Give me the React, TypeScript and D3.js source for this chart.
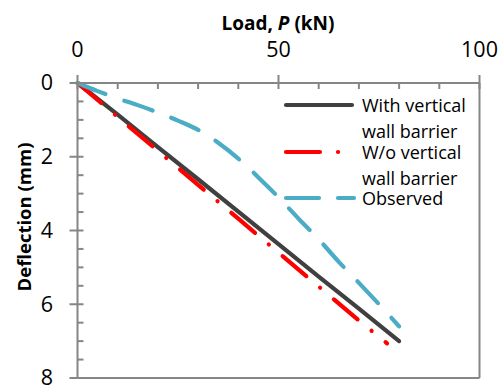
import React from "react";
import * as d3 from "d3";

const loadWith = [0, 10, 20, 30, 40, 50, 60, 70, 80];
const deflWith = [0, 0.86, 1.74, 2.61, 3.49, 4.37, 5.25, 6.12, 7.0];

const loadWo = [0, 10, 20, 30, 40, 50, 60, 70, 77];
const deflWo = [0, 0.92, 1.84, 2.76, 3.68, 4.6, 5.52, 6.44, 7.06];

const loadObs = [0, 5, 10, 15, 20, 25, 30, 35, 40, 45, 50, 55, 60, 65, 70, 75, 80];
const deflObs = [0, 0.22, 0.42, 0.6, 0.8, 1.02, 1.27, 1.62, 2.05, 2.56, 3.1, 3.68, 4.24, 4.85, 5.42, 6.0, 6.6];

const xTicks = [0, 50, 100];
const yTicks = [0, 2, 4, 6, 8];

const legendLabels = [
  ["With vertical", "wall barrier"],
  ["W/o vertical", "wall barrier"],
  ["Observed"],
];

const FONT = "'Open Sans', sans-serif";
const AXIS = "#868686";

export default function App() {
  const x = d3.scaleLinear().domain([0, 100]).range([77.5, 479.5]);
  const y = d3.scaleLinear().domain([0, 8]).range([83, 378]);

  const mk = (xs: number[], ys: number[]) =>
    d3.line<number>().x((_, i) => x(xs[i])).y((_, i) => y(ys[i]))(xs.map((_, i) => i)) || "";
  const mkSmooth = (xs: number[], ys: number[]) =>
    d3
      .line<number>()
      .x((_, i) => x(xs[i]))
      .y((_, i) => y(ys[i]))
      .curve(d3.curveMonotoneX)(xs.map((_, i) => i)) || "";

  const xMinor = d3.range(0, 100.01, 10);
  const yMinor = d3.range(0, 8.01, 0.5);

  const series = [
    { d: mk(loadWith, deflWith), color: "#404040", dash: "none" },
    { d: mk(loadWo, deflWo), color: "#FF0000", dash: "31 18 0.1 18" },
    { d: mkSmooth(loadObs, deflObs), color: "#4BACC6", dash: "30 20" },
  ];

  const legendY = [105, 152, 198];

  return (
    <svg
      width={502}
      height={387}
      style={{ position: "absolute", left: 0, top: 0, background: "#fff" }}
      fontFamily={FONT}
    >
      <rect x={0} y={0} width={502} height={387} fill="#fff" />
      {/* frame right & bottom */}
      <line x1={x(100)} x2={x(100)} y1={y(0)} y2={y(8)} stroke={AXIS} strokeWidth={2} />
      <line x1={x(0)} x2={x(100)} y1={y(8)} y2={y(8)} stroke={AXIS} strokeWidth={2} />

      {/* series */}
      {series.map((s, i) => (
        <path
          key={i}
          d={s.d}
          fill="none"
          stroke={s.color}
          strokeWidth={4.2}
          strokeLinecap="round"
          strokeLinejoin="round"
          strokeDasharray={s.dash}
        />
      ))}

      {/* top axis */}
      <line x1={x(0)} x2={x(100)} y1={y(0)} y2={y(0)} stroke={AXIS} strokeWidth={2} />
      {xMinor.map((v) => (
        <line key={"xm" + v} x1={x(v)} x2={x(v)} y1={y(0)} y2={y(0) + 6} stroke={AXIS} strokeWidth={2} />
      ))}
      {xTicks.map((v) => (
        <g key={"xt" + v}>
          <line x1={x(v)} x2={x(v)} y1={y(0) - 8} y2={y(0)} stroke={AXIS} strokeWidth={2} />
          <text x={x(v)} y={57} textAnchor="middle" fontSize={21.5} fill="#000">
            {v}
          </text>
        </g>
      ))}
      <text x={278} y={30} textAnchor="middle" fontSize={19} fontWeight="bold" fill="#000">
        Load, <tspan fontStyle="italic">P</tspan> (kN)
      </text>

      {/* left axis */}
      <line x1={x(0)} x2={x(0)} y1={y(0)} y2={y(8)} stroke={AXIS} strokeWidth={2} />
      {yMinor.map((v) => (
        <line key={"ym" + v} x1={x(0)} x2={x(0) + 6} y1={y(v)} y2={y(v)} stroke={AXIS} strokeWidth={2} />
      ))}
      {yTicks.map((v) => (
        <g key={"yt" + v}>
          <line x1={x(0) - 8} x2={x(0)} y1={y(v)} y2={y(v)} stroke={AXIS} strokeWidth={2} />
          <text x={53} y={y(v)} dy="0.34em" textAnchor="end" fontSize={21.5} fill="#000">
            {v}
          </text>
        </g>
      ))}
      <text
        transform={`translate(31,217) rotate(-90)`}
        textAnchor="middle"
        fontSize={18.5}
        fontWeight="bold"
        fill="#000"
      >
        Deflection (mm)
      </text>

      {/* legend */}
      {series.map((s, i) => (
        <g key={"lg" + i}>
          <line
            x1={286}
            x2={i === 2 ? 354 : i === 1 ? 340 : 352}
            y1={legendY[i]}
            y2={legendY[i]}
            stroke={s.color}
            strokeWidth={4.2}
            strokeLinecap="round"
            strokeDasharray={i === 1 ? "34 18 0.1 18" : i === 2 ? "33 19" : "none"}
          />
          {legendLabels[i].map((t, j) => (
            <text key={j} x={362} y={legendY[i] + 7 + j * 26} fontSize={18} fill="#000">
              {t}
            </text>
          ))}
        </g>
      ))}
    </svg>
  );
}
